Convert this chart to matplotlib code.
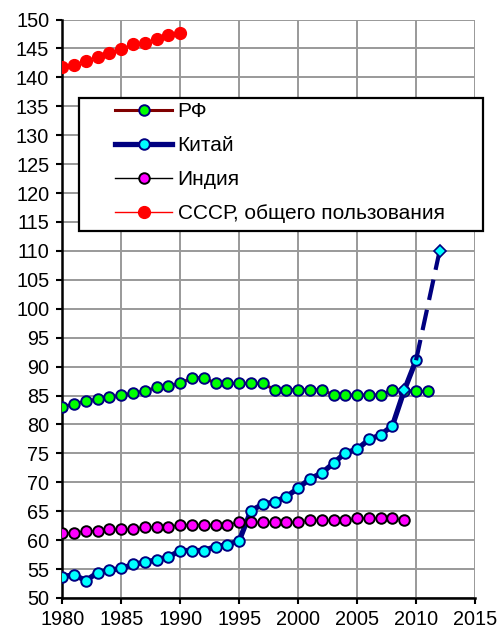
import matplotlib.pyplot as plt
from matplotlib.patches import Rectangle

plt.rcParams['font.family'] = ['Liberation Sans', 'DejaVu Sans']

years = list(range(1980, 2012))

# РФ 1980-2011
rf = [83.0, 83.6, 84.0, 84.4, 84.7, 85.1, 85.4, 85.8, 86.4, 86.7,
      87.1, 88.1, 88.1, 87.1, 87.1, 87.1, 87.1, 87.1, 86.0, 86.0,
      86.0, 86.0, 86.0, 85.1, 85.1, 85.1, 85.1, 85.1, 86.0, 85.8,
      85.7, 85.7]

# Китай 1980-2010
china = [53.7, 54.0, 53.0, 54.4, 54.8, 55.1, 55.8, 56.2, 56.6, 57.1,
         58.2, 58.2, 58.2, 58.9, 59.2, 59.9, 65.1, 66.2, 66.6, 67.5,
         69.0, 70.6, 71.6, 73.3, 75.1, 75.7, 77.4, 78.2, 79.8, 85.9,
         91.1]
china_fc_years = [2010, 2012]
china_fc = [91.1, 110.0]

# Индия 1980-2009
india = [61.3, 61.3, 61.6, 61.6, 61.9, 61.9, 61.9, 62.3, 62.3, 62.3,
         62.7, 62.7, 62.7, 62.7, 62.7, 63.1, 63.1, 63.1, 63.1, 63.1,
         63.1, 63.4, 63.4, 63.4, 63.4, 63.8, 63.8, 63.8, 63.8, 63.4]

# СССР 1980-1990
ussr = [141.8, 142.2, 142.9, 143.6, 144.2, 144.9, 145.7, 146.0, 146.7,
        147.4, 147.7]

fig = plt.figure(figsize=(5.01, 6.34), dpi=100)
ax = fig.add_axes([0.1244, 0.0568, 0.8237, 0.9124])

navy = '#000080'
ms = 7.6

ax.plot(years[:len(rf)], rf, color='#800000', lw=2.2, marker='o', ms=ms,
        mfc='#00ff00', mec=navy, mew=1.4, label='РФ', zorder=3)

ch_years = years[:len(china)]
circ_idx = [i for i in range(len(china)) if ch_years[i] != 2009]
ax.plot(ch_years, china, color=navy, lw=3.8, marker='o', ms=ms,
        mfc='#00ffff', mec=navy, mew=1.4, markevery=circ_idx,
        label='Китай', zorder=4)
i09 = ch_years.index(2009)
ax.plot([2009], [china[i09]], linestyle='none', marker='D', ms=6.5,
        mfc='#00ffff', mec=navy, mew=1.2, zorder=4)
ax.plot(china_fc_years, china_fc, color=navy, lw=3.0, ls=(0, (5, 2.4)),
        marker='D', ms=6.5, mfc='#00ffff', mec=navy, mew=1.2,
        markevery=[1], zorder=4)

ax.plot(years[:len(india)], india, color='black', lw=1, marker='o', ms=ms,
        mfc='#ff00ff', mec='black', mew=1.4, label='Индия', zorder=5)

ax.plot(years[:len(ussr)], ussr, color='red', lw=1, marker='o', ms=8.5,
        mfc='red', mec='red', mew=1, label='СССР, общего пользования',
        zorder=5)

ax.set_xlim(1980, 2015)
ax.set_ylim(50, 150)
ax.set_xticks(range(1980, 2016, 5))
ax.set_yticks(range(50, 151, 5))
ax.grid(True, color='#999999', lw=1.4)
ax.set_axisbelow(True)
for s in ['top', 'right']:
    ax.spines[s].set_visible(False)
for s in ['left', 'bottom']:
    ax.spines[s].set_linewidth(1.8)
ax.tick_params(direction='out', length=4.5, width=1.5, labelsize=14.3, pad=4)
ax.tick_params(axis='y', pad=5)

# legend frame
fig.patches.append(Rectangle((79 / 501, 1 - 231 / 634), 404 / 501, 133 / 634,
                             transform=fig.transFigure, facecolor='white',
                             edgecolor='black', lw=1.6, zorder=6))
leg = fig.legend(loc='upper left', bbox_to_anchor=(115 / 501, 1 - 102 / 634),
                 frameon=False, fontsize=15, handlelength=2.75,
                 handletextpad=0.25, labelspacing=0.72, borderpad=0,
                 borderaxespad=0)
leg.set_zorder(7)

plt.savefig('out.png', dpi=100)
